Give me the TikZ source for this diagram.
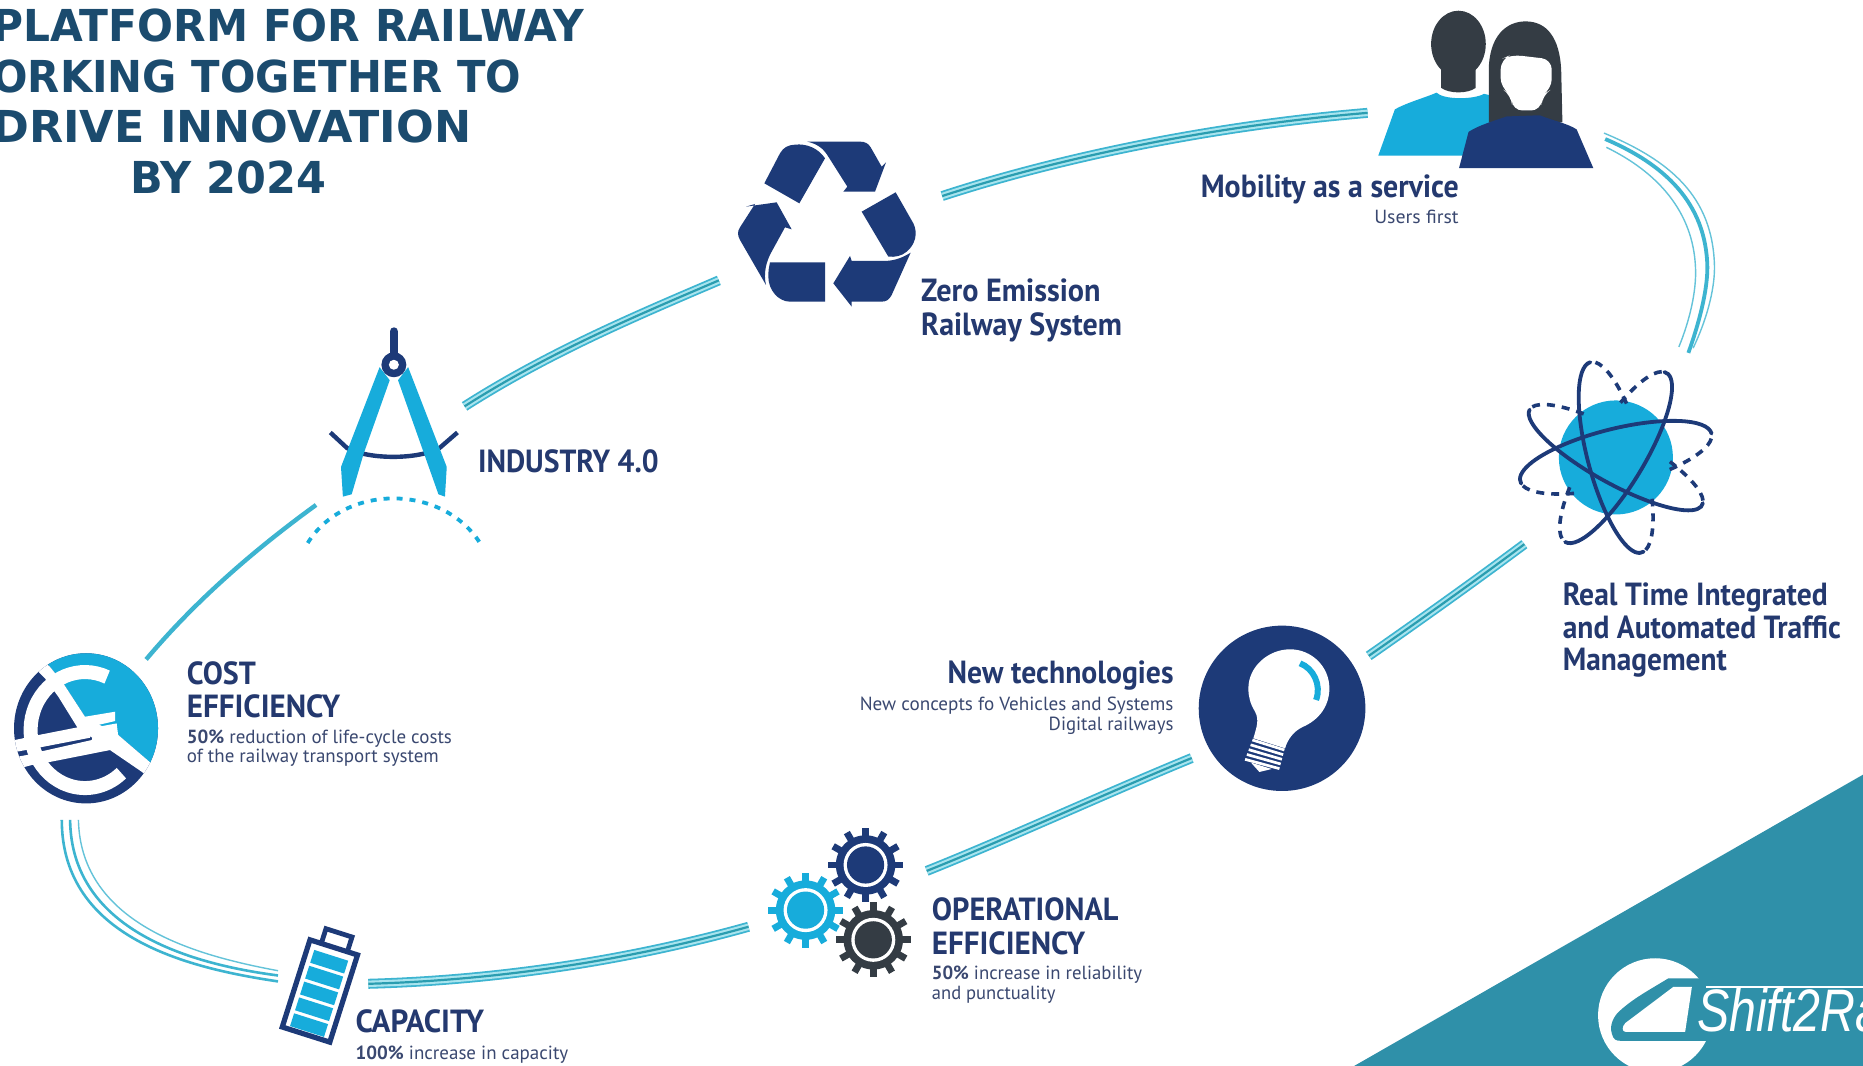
\documentclass[tikz,border=0pt]{standalone}
\usepackage{fontspec}
\usepackage{graphicx}
\setmainfont{PT Sans}
\newfontfamily\titlefont{DejaVu Sans}
\newfontfamily\logofont{Liberation Sans}
\definecolor{navy}{HTML}{1D3A78}
\definecolor{sky}{HTML}{17ACDB}
\definecolor{railc}{HTML}{3DB4D0}
\definecolor{railgap}{HTML}{A8E4EE}
\definecolor{raildark}{HTML}{2A9DB0}
\definecolor{slate}{HTML}{343C44}
\definecolor{titlec}{HTML}{1B4B6E}
\definecolor{labelc}{HTML}{24396F}
\definecolor{subc}{HTML}{3A4870}
\definecolor{tealc}{HTML}{2F90A9}
\newdimen\uu \uu=0.59407pt
\newcommand{\fitw}[2]{\resizebox{#1\uu}{\height}{#2}}
\newcommand{\gearicon}[3]{%
  \begin{scope}[shift={(#1,#2)}]
    \fill[#3] (0,0) circle (14.85pt);
    \foreach \a in {0,30,...,330} \draw[#3,line width=3.4pt] (\a:13pt) -- (\a:18.7pt);
    \fill[white] (0,0) circle (11pt);
    \fill[#3] (0,0) circle (9.3pt);
  \end{scope}}
\tikzset{
  rail/.style={draw=railc,line width=5pt,
    postaction={draw=railgap,line width=3.2pt},
    postaction={draw=raildark,line width=1.1pt}},
  railthin/.style={draw=railc!80,line width=0.7pt},
  railmid/.style={draw=railc,line width=1.3pt},
  head/.style={anchor=base west,inner sep=0pt,text=labelc,font=\fontsize{16}{16}\selectfont\bfseries},
  headr/.style={head,anchor=base east},
  sub/.style={anchor=base west,inner sep=0pt,text=subc,font=\fontsize{9.5}{10}\selectfont},
  subr/.style={sub,anchor=base east},
  ttl/.style={anchor=base east,inner sep=0pt,text=titlec,font=\fontsize{22}{22}\titlefont\bfseries},
  orbit/.style={draw=navy,line width=1.9pt,line cap=round},
  orbitd/.style={draw=navy,line width=1.8pt,dash pattern=on 4pt off 3.5pt},
  crop/.style={x=0.16667pt,y=-0.16667pt},
}
\begin{document}
\begin{tikzpicture}[x=\uu,y=-\uu]
\useasboundingbox (0,0) rectangle (1568,897);
\clip (0,0) rectangle (1568,897);
\fill[white] (0,0) rectangle (1568,897);

% corner banner and logo
\fill[tealc] (1140,897) -- (1568,652) -- (1568,897) -- cycle;
\fill[white] (1393,854.5) circle (48*\uu);
\fill[tealc] (1462,823.5) -- (1404,823.5) .. controls (1385,835) and (1372,842) .. (1361,853) .. controls (1356,859) and (1355,866) .. (1356.6,870) .. controls (1358,875) and (1360,876) .. (1364,876) -- (1462,876) -- cycle;
\fill[white] (1424,830.5) -- (1408.5,830.5) -- (1368,861) .. controls (1365,864) and (1365,868.4) .. (1368,868.4) -- (1418.3,868.4) -- cycle;
\draw[white,line width=1pt] (1436,830.5) -- (1568,830.5);
\node[anchor=base west,inner sep=0pt,text=white] (logo) at (1428,868) {\fitw{156}{\fontsize{30}{30}\logofont\itshape Shift2Ra}};

% connectors
\coordinate (r1a) at (123,555); \coordinate (r1b) at (266,425);
\coordinate (r2a) at (391,342); \coordinate (r2b) at (605,236);
\coordinate (r3a) at (793,165); \coordinate (r3b) at (1151,95);
\coordinate (r5a) at (1283,458); \coordinate (r5b) at (1152,552);
\coordinate (r6a) at (1003,638); \coordinate (r6b) at (780,733);
\coordinate (r7a) at (630,780); \coordinate (r7b) at (310,828);
\draw[draw=railc,line width=2.2pt] (r1a) .. controls (165,505) and (215,462) .. (r1b);
\draw[rail] (r2a) .. controls (460,298) and (530,268) .. (r2b);
\draw[rail] (r3a) .. controls (900,130) and (1030,105) .. (r3b);
\draw[rail] (r5a) .. controls (1240,490) and (1195,522) .. (r5b);
\draw[rail] (r6a) .. controls (930,668) and (850,705) .. (r6b);
\draw[rail] (r7a) .. controls (530,808) and (420,825) .. (r7b);
% wide-spaced arcs
\coordinate (r4a) at (1351,117); \coordinate (r4b) at (1421,297);
\draw[railthin] (1350,112) .. controls (1405,135) and (1442,165) .. (1443,225) .. controls (1443,245) and (1436,270) .. (1425,293);
\draw[railmid,line width=1.9pt] (r4a) .. controls (1400,138) and (1436,170) .. (1437,225) .. controls (1437,245) and (1430,272) .. (r4b);
\draw[railthin] (1352,124) .. controls (1395,145) and (1425,178) .. (1427,225) .. controls (1428,245) and (1422,270) .. (1413,292);
\coordinate (r8a) at (234,826); \coordinate (r8b) at (52,690);
\draw[railmid] (r8a) .. controls (160,815) and (52,790) .. (r8b);
\draw[railmid] (234,821) .. controls (165,812) and (60,785) .. (59,690);
\draw[railthin] (234,817) .. controls (170,805) and (68,780) .. (66,690);

% euro icon
\begin{scope}
\clip (72.4,613) ellipse [x radius=60.6,y radius=63.2];
\begin{scope}[shift={(0,538.7)},crop]
\fill[navy] (0,0) rectangle (520,520);
\fill[sky] (100,0) -- (148,78) -- (190,130) -- (255,230) -- (355,285) -- (440,358) -- (520,430) -- (520,0) -- cycle;
\fill[white] (148,78) -- (190,130) -- (255,230) -- (355,285) -- (440,358) -- (510,420) -- (480,440) -- (425,395) -- (330,330) -- (232,262) -- (175,170) -- (135,115) -- (105,85) -- (120,60) -- cycle;
\draw[white,line width=7pt] ([shift={(66:27.2pt and 29pt)}]255,270) arc[start angle=66,end angle=312,x radius=27.2pt,y radius=29pt];
\fill[white] (20,305) -- (115,285) -- (232,262) -- (255,230) -- (345,215) -- (345,243) -- (280,258) -- (270,293) -- (120,322) -- (50,335) -- (20,340) -- cycle;
\fill[white] (20,352) -- (52,350) -- (80,345) -- (120,335) -- (275,300) -- (285,262) -- (350,250) -- (355,290) -- (330,330) -- (143,367) -- (95,375) -- (20,395) -- cycle;
\end{scope}
\end{scope}

% battery
\begin{scope}[shift={(259.6,788.5)},x={(0.566pt,-0.18pt)},y={(-0.18pt,-0.566pt)}]
\draw[navy,line width=2.6pt] (2,2) -- (44,2) -- (44,79) -- (2,79) -- cycle;
\draw[navy,line width=2.4pt] (12,1) -- (12,-11) -- (35,-11) -- (35,1);
\foreach \t in {9,23,37,51,65} \fill[sky] (8,\t) -- (38,\t) -- (38,\t+11.3) -- (8,\t+11.3) -- cycle;
\end{scope}

% gears
\gearicon{728.5}{728}{navy}
\gearicon{678}{766}{sky}
\gearicon{735}{791}{slate}

% bulb
\begin{scope}[shift={(1001.6,521.8)},crop]
\fill[navy] (276,265) ellipse [x radius=250,y radius=248];
\fill[white] (190,355) .. controls (200,320) and (208,300) .. (195,275) .. controls (180,250) and (175,230) .. (175,205) .. controls (175,140) and (235,88) .. (300,88) .. controls (365,88) and (418,140) .. (418,205) .. controls (418,260) and (385,300) .. (340,320) .. controls (310,333) and (292,360) .. (285,385) -- cycle;
\foreach \i in {0,1,2,3,4} \draw[white,line width=1.35pt] (187-5.5*\i,360+14.5*\i) -- (283-3.7*\i,390+14*\i);
\fill[white] (183,428) -- (245,447) -- (208,456) -- cycle;
\draw[sky,line width=3pt] (330,130) .. controls (370,145) and (395,195) .. (378,240);
\end{scope}

% atom
\fill[sky] (1360,385) circle (48*\uu);
\begin{scope}[shift={(1360,385)},rotate=14]
\draw[orbit] (0:49.3pt and 14.3pt) arc[start angle=0,end angle=185,x radius=49.3pt,y radius=14.3pt];
\draw[orbitd] (190:49.3pt and 14.3pt) arc[start angle=190,end angle=240,x radius=49.3pt,y radius=14.3pt];
\draw[orbitd] (300:49.3pt and 14.3pt) arc[start angle=300,end angle=352,x radius=49.3pt,y radius=14.3pt];
\end{scope}
\begin{scope}[shift={(1360,385)},rotate=-29]
\draw[orbit] (180:49.3pt and 13pt) arc[start angle=180,end angle=365,x radius=49.3pt,y radius=13pt];
\draw[orbitd] (10:49.3pt and 13pt) arc[start angle=10,end angle=60,x radius=49.3pt,y radius=13pt];
\draw[orbitd] (120:49.3pt and 13pt) arc[start angle=120,end angle=172,x radius=49.3pt,y radius=13pt];
\end{scope}
\begin{scope}[shift={(1360,385)},rotate=105]
\draw[orbit] (0:49.3pt and 14pt) arc[start angle=0,end angle=185,x radius=49.3pt,y radius=14pt];
\draw[orbitd] (190:49.3pt and 14pt) arc[start angle=190,end angle=240,x radius=49.3pt,y radius=14pt];
\draw[orbitd] (300:49.3pt and 14pt) arc[start angle=300,end angle=350,x radius=49.3pt,y radius=14pt];
\end{scope}
\begin{scope}[shift={(1360,385)},rotate=59]
\draw[orbit] (180:49.3pt and 14pt) arc[start angle=180,end angle=365,x radius=49.3pt,y radius=14pt];
\draw[orbitd] (10:49.3pt and 14pt) arc[start angle=10,end angle=60,x radius=49.3pt,y radius=14pt];
\draw[orbitd] (120:49.3pt and 14pt) arc[start angle=120,end angle=172,x radius=49.3pt,y radius=14pt];
\end{scope}

% compass
\draw[navy,line width=2.2pt] (278,364) -- (292,377) .. controls (310,387) and (352,387) .. (370,377) -- (385,364);
\fill[sky] (319.5,309) -- (328,320) -- (306,382) -- (296,416) -- (288.6,418) -- (287,393) -- cycle;
\fill[sky] (343.5,309) -- (335,320) -- (357,382) -- (369,416) -- (374.5,418) -- (376,393) -- cycle;
\draw[navy,line width=4.2pt,line cap=round] (331.5,279) -- (331.5,305);
\fill[navy] (331.5,307) circle (10.5*\uu);
\fill[white] (331.5,307) circle (4.2*\uu);
\draw[sky,line width=1.9pt,dash pattern=on 3pt off 3.5pt] (259,457) .. controls (290,407) and (372,407) .. (404,457);

% recycle
\begin{scope}[shift={(614.4,109.4)},crop,navy]
\fill (103,160) -- (150,70) .. controls (160,52) and (175,45) .. (195,44) .. controls (230,40) and (265,55) .. (285,85) -- (208,220) -- cycle;
\fill (232,35) -- (390,35) .. controls (405,35) and (415,40) .. (422,52) -- (455,110) -- (468,97) -- (435,185) -- (340,185) -- (352,170) -- (295,80) .. controls (280,55) and (262,42) .. (232,35) -- cycle;
\fill (395,245) -- (497,187) -- (550,280) .. controls (565,310) and (555,345) .. (530,365) .. controls (515,378) and (495,382) .. (475,380) -- cycle;
\fill (542,368) .. controls (515,385) and (490,393) .. (460,393) -- (365,393) -- (360,378) -- (310,460) -- (365,530) -- (365,515) -- (455,515) .. controls (470,515) and (478,508) .. (485,495) -- cycle;
\fill (120,397) -- (285,397) -- (285,515) -- (180,515) .. controls (145,515) and (115,480) .. (115,440) .. controls (115,420) and (117,410) .. (120,397) -- cycle;
\fill (108,465) -- (30,330) .. controls (22,315) and (22,305) .. (30,292) -- (75,222) -- (48,230) -- (140,217) -- (185,298) -- (165,292) -- (125,365) .. controls (108,395) and (100,430) .. (108,465) -- cycle;
\end{scope}

% people
\fill[sky] (1160,131) -- (1174,92) .. controls (1185,86) and (1200,82) .. (1209,78) .. controls (1215,84) and (1240,84) .. (1249,79) -- (1262,82) -- (1262,131) -- cycle;
\fill[slate] (1227.5,37) ellipse [x radius=23,y radius=28];
\fill[slate] (1213,55) -- (1242,55) -- (1242,74) .. controls (1235,79) and (1220,79) .. (1213,74) -- cycle;
\fill[slate] (1253,103) -- (1253,60) .. controls (1253,30) and (1268,18) .. (1284,18) .. controls (1302,18) and (1313,32) .. (1314,60) -- (1315,103) -- cycle;
\fill[white,rounded corners=5pt] (1263,50) -- (1272,46) -- (1306,50) -- (1306,75) -- (1298,80) -- (1297,93) -- (1273,93) -- (1272,80) -- (1263,74) -- cycle;
\fill[navy] (1228,141.5) -- (1236,111) .. controls (1245,105) and (1260,101) .. (1268,98) -- (1296,97) .. controls (1305,101) and (1320,104) .. (1327,109) -- (1341,141.5) -- cycle;

% title
\node[ttl] (t1) at (492,35) {\fitw{498}{PLATFORM FOR RAILWAY}};
\node[ttl] (t2) at (439,78) {\fitw{445}{ORKING TOGETHER TO}};
\node[ttl] (t3) at (397,120) {\fitw{403}{DRIVE INNOVATION}};
\node[ttl] (t4) at (275,163) {\fitw{165}{BY 2024}};

% labels
\node[head] (cost1) at (157,576) {\fitw{58}{COST}};
\node[head] (cost2) at (157,604) {\fitw{129}{EFFICIENCY}};
\node[sub] (cost3) at (157,626) {\fitw{223}{\textbf{50\%} reduction of life-cycle costs}};
\node[sub] (cost4) at (157,642) {\fitw{212}{of the railway transport system}};
\node[head] (cap1) at (299,869) {\fitw{108}{CAPACITY}};
\node[sub] (cap2) at (299,892) {\fitw{179}{\textbf{100\%} increase in capacity}};
\node[head] (op1) at (784,775) {\fitw{157}{OPERATIONAL}};
\node[head] (op2) at (784,803) {\fitw{129}{EFFICIENCY}};
\node[sub] (op3) at (784,824) {\fitw{177}{\textbf{50\%} increase in reliability}};
\node[sub] (op4) at (784,841) {\fitw{104}{and punctuality}};
\node[headr] (nt1) at (988,575) {\fitw{190}{New technologies}};
\node[subr] (nt2) at (988,598) {\fitw{264}{New concepts fo Vehicles and Systems}};
\node[subr] (nt3) at (988,615) {\fitw{105}{Digital railways}};
\node[head] (rt1) at (1315,510) {\fitw{223}{Real Time Integrated}};
\node[head] (rt2) at (1315,537) {\fitw{234}{and Automated Traffic}};
\node[head] (rt3) at (1315,564) {\fitw{138}{Management}};
\node[headr] (mo1) at (1228,166) {\fitw{217}{Mobility as a service}};
\node[subr] (mo2) at (1228,188) {\fitw{71}{Users first}};
\node[head] (ze1) at (775,254) {\fitw{151}{Zero Emission}};
\node[head] (ze2) at (775,282) {\fitw{169}{Railway System}};
\node[head] (in1) at (402,398) {\fitw{152}{INDUSTRY 4.0}};
\end{tikzpicture}
\end{document}
